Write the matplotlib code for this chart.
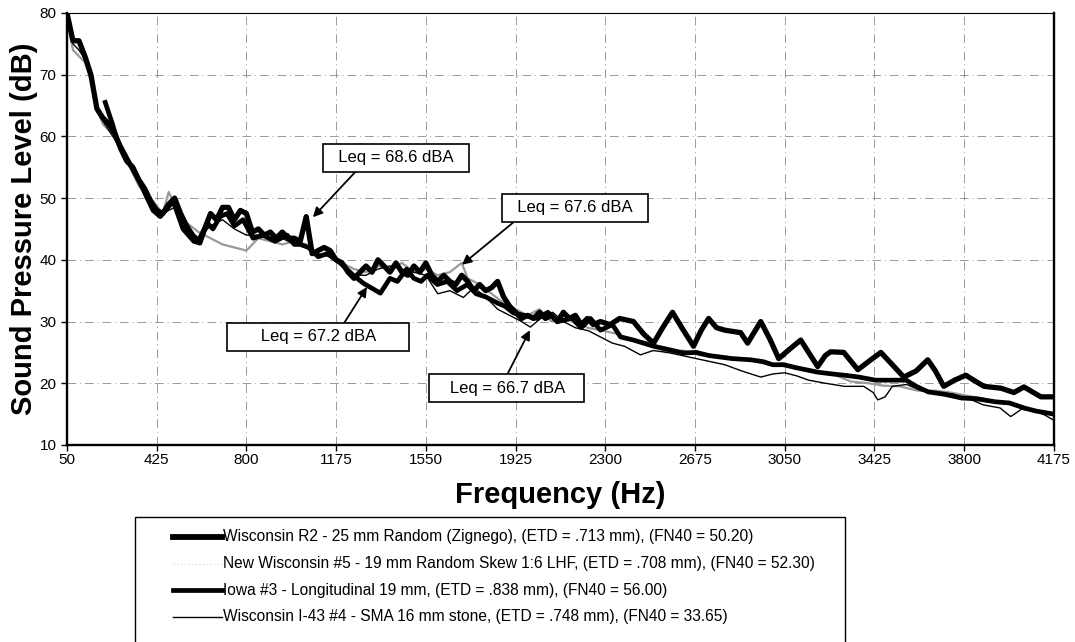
import matplotlib
matplotlib.use("Agg")
import matplotlib.pyplot as plt
from matplotlib.lines import Line2D
from matplotlib.patches import Rectangle

plt.rcParams['font.family'] = ['Liberation Sans', 'DejaVu Sans']

# ---- data ----
r2_freq = [50, 75, 100, 125, 150, 175, 200, 225, 250, 275, 300, 325, 350, 375, 400, 425,
           450, 475, 500, 525, 550, 575, 600, 625, 650, 675, 700, 725, 750, 775, 800, 825,
           850, 875, 900, 925, 950, 975, 1000, 1025, 1050, 1075, 1100, 1125, 1150, 1175,
           1200, 1225, 1250, 1275, 1300, 1325, 1350, 1375, 1400, 1425, 1450, 1475, 1500,
           1525, 1550, 1575, 1600, 1625, 1650, 1675, 1700, 1725, 1750, 1775, 1800, 1825,
           1850, 1875, 1900, 1925, 1950, 1975, 2000, 2025, 2050, 2075, 2100, 2125, 2150,
           2175, 2200, 2225, 2250, 2280, 2320, 2360, 2418, 2460, 2502, 2540, 2581, 2620,
           2669, 2700, 2732, 2765, 2800, 2866, 2895, 2950, 2990, 3025, 3070, 3117, 3150,
           3188, 3220, 3242, 3297, 3356, 3400, 3452, 3500, 3548, 3600, 3648, 3680, 3715,
           3760, 3807, 3840, 3883, 3954, 4008, 4050, 4090, 4121, 4175]
r2_spl = [80, 75.5, 75.5, 73, 70, 64.5, 63, 62, 60.5, 58, 56, 55, 53, 51.5, 49.5, 48,
          47.5, 49, 50, 47.5, 45.5, 44, 43, 45, 47.5, 46.5, 48.5, 48.5, 46.5, 48, 47.5, 44.5,
          45, 44, 44.5, 43.5, 44.5, 43.5, 43.5, 43, 47, 41, 41.5, 42, 41.5, 40,
          39.5, 38, 37, 38, 39, 38, 40, 39, 38, 39.5, 38, 37.5, 39,
          38, 39.5, 37.5, 36.5, 37.5, 36.5, 36, 37.5, 36.5, 35, 36, 35, 35.5,
          36.5, 34, 32.5, 31.5, 30.5, 31, 30.5, 31.5, 30.5, 31, 30, 31.5, 30.5,
          31, 29.5, 30.5, 29.5, 30, 29.5, 30.5, 30, 28, 26.5, 29, 31.5, 29,
          26, 28.5, 30.5, 29, 28.6, 28.2, 26.5, 30, 27, 24, 25.5, 27, 25,
          22.7, 24.5, 25.1, 25, 22.2, 23.5, 25, 23, 21, 22, 23.8, 22, 19.5,
          20.5, 21.3, 20.5, 19.5, 19.2, 18.5, 19.4, 18.5, 17.8, 17.8]

nw5_freq = [50, 75, 100, 125, 150, 175, 200, 250, 300, 350, 400, 450, 475, 500, 550, 600,
            650, 700, 750, 800, 850, 900, 950, 1000, 1050, 1100, 1150, 1200, 1250, 1300,
            1350, 1400, 1450, 1500, 1550, 1600, 1650, 1700, 1725, 1775, 1825, 1875, 1925,
            1975, 2025, 2075, 2125, 2175, 2225, 2280, 2350, 2418, 2500, 2550, 2627, 2700,
            2770, 2850, 2908, 2980, 3046, 3100, 3188, 3250, 3326, 3400, 3464, 3530, 3606,
            3680, 3744, 3810, 3883, 3950, 4025, 4100, 4175]
nw5_spl = [79, 74, 73, 72, 69, 64.5, 62, 60, 56, 52, 50, 47.5, 51, 49, 46, 44.5,
           43.5, 42.5, 42, 41.5, 43.5, 43, 42.5, 43, 42.5, 40.5, 41, 39.5, 38.5, 38,
           39, 38.5, 39.5, 38, 38.5, 37.5, 38, 39.5, 37, 36, 34.5, 33, 32,
           31, 32, 30, 31, 30.5, 29, 28.6, 28, 27, 26.5, 25, 25.3, 24.5,
           24.5, 24, 23.8, 23, 23.2, 22.5, 21.8, 21.5, 20.3, 20, 19.6, 19.5, 18.8,
           18.8, 18.5, 18, 17.5, 16.8, 16.5, 15.5, 15]

iowa_freq = [210, 240, 259, 300, 355, 410, 440, 494, 535, 580, 606, 636, 660, 690, 719,
             750, 786, 828, 870, 920, 970, 1000, 1025, 1060, 1100, 1138, 1192, 1247, 1289,
             1320, 1360, 1400, 1431, 1470, 1500, 1530, 1556, 1598, 1640, 1680, 1724, 1760,
             1800, 1849, 1880, 1916, 1960, 2016, 2060, 2100, 2160, 2200, 2238, 2280, 2330,
             2364, 2418, 2460, 2502, 2560, 2627, 2680, 2732, 2770, 2830, 2908, 2960, 3000,
             3046, 3100, 3188, 3250, 3300, 3360, 3430, 3500, 3558, 3600, 3650, 3720, 3790,
             3850, 3930, 3990, 4050, 4100, 4175]
iowa_spl = [65.5, 62, 59.5, 56.5, 52.5, 48, 47, 49.5, 45, 43, 42.7, 46, 45, 47, 47.5,
            45.5, 46.5, 43.5, 44, 43, 44, 42.5, 42.5, 42, 40.5, 41, 39.5, 37.5, 36.2,
            35.5, 34.6, 37, 36.5, 38.5, 37, 36.5, 37.5, 36, 36.5, 35, 36, 34.5,
            34, 33, 32.5, 31.4, 31, 30.5, 31.5, 30, 30.5, 29, 30.5, 28.6, 29.5,
            27.5, 27, 26.5, 26, 25.5, 24.9, 25, 24.5, 24.3, 24, 23.8, 23.5, 23,
            23, 22.5, 21.8, 21.5, 21.3, 21, 20.5, 20.5, 20.5, 19.5, 18.6, 18.2, 17.6,
            17.5, 17, 16.8, 16, 15.5, 15]

i43_freq = [50, 75, 100, 125, 150, 175, 200, 250, 300, 350, 400, 450, 500, 550, 600, 650,
            700, 750, 800, 850, 900, 950, 1000, 1050, 1100, 1150, 1200, 1250, 1300, 1350,
            1400, 1450, 1500, 1550, 1600, 1650, 1707, 1750, 1800, 1850, 1900, 1950, 1987,
            2030, 2080, 2125, 2175, 2230, 2280, 2330, 2380, 2447, 2500, 2560, 2620, 2680,
            2740, 2800, 2870, 2950, 3000, 3050, 3100, 3150, 3220, 3300, 3380, 3420, 3439,
            3470, 3500, 3560, 3620, 3680, 3750, 3820, 3880, 3950, 3995, 4040, 4100, 4140, 4175]
i43_spl = [79.5, 75, 74, 72.5, 69.5, 64, 62.5, 59.5, 56, 52.5, 49.5, 47.5, 48.5, 45, 43.5, 45.5,
           46.5, 45, 44, 44, 43.5, 43.5, 42.5, 42, 41, 40.5, 39, 37.5, 37.5, 38.5,
           39, 38.5, 38, 37.5, 34.5, 35, 33.9, 35.5, 34, 32, 31, 30, 29.1,
           30.5, 31.5, 30, 29, 28.5, 27.5, 26.5, 26, 24.6, 25.3, 25, 24.5, 24,
           23.5, 23, 22, 21, 21.5, 21.7, 21.2, 20.5, 20, 19.5, 19.5, 18.5, 17.3,
           17.8, 19.5, 19.8, 18.8, 18.5, 18.3, 17.5, 16.5, 16, 14.6, 15.8, 15.5, 14.8, 14]

x_ticks = [50, 425, 800, 1175, 1550, 1925, 2300, 2675, 3050, 3425, 3800, 4175]
y_ticks = [10, 20, 30, 40, 50, 60, 70, 80]

labels = ["Wisconsin R2 - 25 mm Random (Zignego), (ETD = .713 mm), (FN40 = 50.20)",
          "New Wisconsin #5 - 19 mm Random Skew 1:6 LHF, (ETD = .708 mm), (FN40 = 52.30)",
          "Iowa #3 - Longitudinal 19 mm, (ETD = .838 mm), (FN40 = 56.00)",
          "Wisconsin I-43 #4 - SMA 16 mm stone, (ETD = .748 mm), (FN40 = 33.65)"]

# (text, text position, arrow tip, relpos of arrow start on box, extra box width in spaces)
leq_notes = [("Leq = 68.6 dBA", (1425, 56.5), (1078, 46.9), (0.24, 0), 2),
             ("Leq = 67.6 dBA", (2173, 48.4), (1701, 39.2), (0.10, 0), 2),
             ("Leq = 67.2 dBA", (1099, 27.5), (1304, 35.6), (0.63, 1), 6),
             ("Leq = 66.7 dBA", (1889, 19.2), (1985, 28.6), (0.48, 1), 3)]

fig = plt.figure(figsize=(10.75, 6.42), dpi=100)
ax = fig.add_axes([0.0623, 0.3069, 0.918, 0.6729])

ax.plot(nw5_freq, nw5_spl, color='#9a9a9a', lw=1.6, zorder=2)
ax.plot(iowa_freq, iowa_spl, color='black', lw=3.4, zorder=3)
ax.plot(r2_freq, r2_spl, color='black', lw=3.8, zorder=4)
ax.plot(i43_freq, i43_spl, color='black', lw=1.0, zorder=5)

ax.set_xlim(50, 4175)
ax.set_ylim(10, 80)
ax.set_xticks(x_ticks)
ax.set_yticks(y_ticks)
ax.tick_params(axis='both', direction='out', length=4, width=1, labelsize=11)
ax.tick_params(axis='x', pad=2)
ax.grid(True, color='#707070', lw=0.7, linestyle=(0, (9, 4, 1, 4)), alpha=0.7)
for s in ax.spines.values():
    s.set_linewidth(1.7)
ax.spines['top'].set_linewidth(0.8)

ax.set_xlabel("Frequency (Hz)", fontsize=21, fontweight='bold', labelpad=10)
ax.set_ylabel("Sound Pressure Level (dB)", fontsize=21, fontweight='bold', labelpad=1)

for txt, pos, tip, rp, sp in leq_notes:
    pad_txt = " " * sp
    ax.annotate(pad_txt + txt + pad_txt, xy=tip, xytext=pos, ha='center', va='center',
                fontsize=12,
                bbox=dict(boxstyle='square,pad=0.38', fc='white', ec='black', lw=1.2),
                arrowprops=dict(arrowstyle='-|>', color='black', lw=1.3,
                                mutation_scale=14, relpos=rp, shrinkA=0, shrinkB=0),
                zorder=10)

# legend box drawn by hand so it runs off the bottom edge like the scan
W, H = 1075.0, 642.0
fig.add_artist(Rectangle((135 / W, 1 - 652 / H), 710 / W, 135 / H,
                         transform=fig.transFigure, fc='white', ec='black', lw=1.0))
leg_styles = [dict(color='black', lw=4.2),
              dict(color='#dddddd', lw=1, linestyle=':'),
              dict(color='black', lw=3.4),
              dict(color='black', lw=1.0)]
leg_rows = [537, 563.5, 590, 616.5]
for lab, st, row in zip(labels, leg_styles, leg_rows):
    yf = 1 - row / H
    fig.add_artist(Line2D([173 / W, 222 / W], [yf, yf], transform=fig.transFigure, **st))
    fig.text(223 / W, yf, lab, fontsize=11.2, va='center', ha='left')

fig.savefig("out.png", dpi=100)
